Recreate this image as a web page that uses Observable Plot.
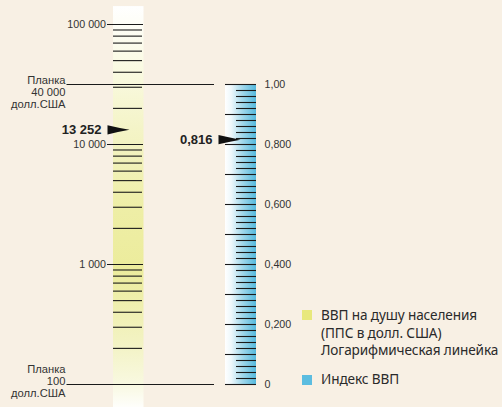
<!DOCTYPE html>
<html><head><meta charset="utf-8">
<script src="https://cdn.jsdelivr.net/npm/d3@7"></script>
<script src="https://cdn.jsdelivr.net/npm/@observablehq/plot@0.6"></script>
<style>
html,body{margin:0;padding:0;background:#f8f0e4;}
#wrap{position:relative;width:502px;height:407px;overflow:hidden;background:#f8f0e4;}
#wrap svg{position:absolute;left:0;top:0;}
.lg{position:absolute;font-family:"Noto Sans",sans-serif;font-size:13.6px;letter-spacing:-0.12px;line-height:17.5px;color:#2a2a2a;white-space:nowrap;}
.sw{position:absolute;width:10px;height:10px;}
</style></head><body><div id="wrap"></div>
<script>
// ---- data ----
const logTickValues = [200,300,400,500,600,700,800,900,
  1000,2000,3000,4000,5000,6000,7000,8000,9000,
  10000,20000,30000,40000,50000,60000,70000,80000,90000,100000];
const decadeValues = [1000, 10000, 100000];
const decadeLabels = ["1 000", "10 000", "100 000"];
const indexTickValues = d3.range(0, 51).map(i => i / 50);
const indexLabelValues = [0, 0.2, 0.4, 0.6, 0.8, 1.0];
const indexLabels = ["0", "0,200", "0,400", "0,600", "0,800", "1,00"];
const thresholdIndex = [1, 0];
const thresholdLabels = ["Планка\n40 000\nдолл.США", "Планка\n100\nдолл.США"];
const gdpPerCapita = 13252;
const gdpPerCapitaLabel = "13 252";
const gdpIndex = 0.816;
const gdpIndexLabel = "0,816";
const legendLabels = ["ВВП на душу населения\n(ППС в долл. США)\nЛогарифмическая линейка", "Индекс ВВП"];
const legendColors = ["#e8e87c", "#5cbde0"];

// ---- layout ----
const W = 502, H = 407;
const LB = {x1: 113, x2: 143.5};   // log ruler
const RB = {x1: 225, x2: 256};     // index ruler
const indexDecades = 2.5;           // index ruler length expressed in decades of the log ruler
const idx = v => Math.pow(10, 2 + indexDecades * v);
const arrow = {draw(ctx) { ctx.moveTo(-11, -4.6); ctx.quadraticCurveTo(0, -2, 11, 0); ctx.quadraticCurveTo(0, 2, -11, 4.6); ctx.closePath(); }};

const defs = () => {
  const d = d3.create("svg:defs");
  const gy = d.append("linearGradient").attr("id", "gy").attr("x1", 0).attr("x2", 0).attr("y1", 0).attr("y2", 1);
  [[0,"#ffffff"],[0.12,"#fbfbe8"],[0.3,"#f4f4c8"],[0.5,"#eeeea6"],[0.65,"#ecec9c"],[0.82,"#f2f2c0"],[0.93,"#f8f8df"],[1,"#ffffff"]]
    .forEach(([o,c]) => gy.append("stop").attr("offset", o).attr("stop-color", c));
  const gb = d.append("linearGradient").attr("id", "gb").attr("x1", 0).attr("x2", 1).attr("y1", 0).attr("y2", 0);
  [[0,"#ffffff"],[0.2,"#eef8fb"],[0.55,"#a4d9ec"],[1,"#55b9dd"]]
    .forEach(([o,c]) => gb.append("stop").attr("offset", o).attr("stop-color", c));
  return d.node();
};

const minor = logTickValues.filter(v => !decadeValues.includes(v));
const decades = decadeValues.map((v, i) => ({v, t: decadeLabels[i]}));
const idxLabels = indexLabelValues.map((v, i) => ({v, t: indexLabels[i]}));
const thresholds = thresholdIndex.map((v, i) => ({v, t: thresholdLabels[i]}));
const labelOpts = {x: 65, text: "t", textAnchor: "end", lineAnchor: "middle", fontSize: 11.2, lineHeight: 1.08, fill: "#333"};

const plot = Plot.plot({
  width: W, height: H,
  margin: 0,
  style: {background: "transparent", fontFamily: "'Liberation Sans', Arial, sans-serif"},
  x: {type: "linear", domain: [0, W], range: [0, W], axis: null},
  y: {type: "log", domain: [100, 100000], range: [384, 24], axis: null},
  marks: [
    defs,
    Plot.rect([0], {x1: LB.x1, x2: LB.x2, y1: 60, y2: 141000, fill: "url(#gy)"}),
    Plot.rect([0], {x1: RB.x1, x2: RB.x2, y1: idx(0), y2: idx(1), fill: "url(#gb)"}),
    // log ruler
    Plot.ruleY(minor, {y: d => d, x1: LB.x1, x2: LB.x2 - 1.5, stroke: "#1a1a1a", strokeWidth: 1.1}),
    Plot.ruleY(decades, {y: "v", x1: 107, x2: LB.x2 - 0.5, stroke: "#1a1a1a", strokeWidth: 1.1}),
    Plot.text(decades, {y: "v", x: 105.5, text: "t", textAnchor: "end", fontSize: 10.7, fill: "#333"}),
    // index ruler
    Plot.ruleY(indexTickValues, {y: d => idx(d), x1: d => (Math.round(d * 50) % 5 === 0 ? RB.x1 : 236), x2: RB.x2, stroke: "#1a1a1a", strokeWidth: 1.1}),
    Plot.text(idxLabels, {y: d => idx(d.v), x: 264, text: "t", textAnchor: "start", fontSize: 10.7, fill: "#333"}),
    // thresholds
    Plot.ruleY(thresholds, {y: d => idx(d.v), x1: 66.5, x2: 214, stroke: "#1a1a1a", strokeWidth: 1.1}),
    Plot.text(thresholds.filter(d => d.v === 1), {...labelOpts, y: d => idx(d.v), dy: 7.5}),
    Plot.text(thresholds.filter(d => d.v === 0), {...labelOpts, y: d => idx(d.v), dy: -3}),
    // markers
    Plot.dot([gdpPerCapita], {y: d => d, x: 118, symbol: arrow, fill: "#111", stroke: "none"}),
    Plot.text([gdpPerCapita], {y: d => d, x: 101, text: () => gdpPerCapitaLabel, textAnchor: "end", fontSize: 13, fontWeight: "bold", fill: "#222"}),
    Plot.dot([gdpIndex], {y: d => idx(d), x: 229, symbol: arrow, fill: "#111", stroke: "none"}),
    Plot.text([gdpIndex], {y: d => idx(d), x: 212, text: () => gdpIndexLabel, textAnchor: "end", fontSize: 13, fontWeight: "bold", fill: "#222"})
  ]
});
const wrap = document.getElementById("wrap");
wrap.appendChild(plot);

// legend
const legendPos = [{sx: 301.5, sy: 310, tx: 321, ty: 306}, {sx: 302, sy: 375, tx: 321, ty: 369.5}];
legendLabels.forEach((t, i) => {
  const p = legendPos[i];
  const s = document.createElement("div");
  s.className = "sw"; s.style.left = p.sx + "px"; s.style.top = p.sy + "px"; s.style.background = legendColors[i];
  wrap.appendChild(s);
  const l = document.createElement("div");
  l.className = "lg"; l.style.left = p.tx + "px"; l.style.top = p.ty + "px";
  l.innerHTML = t.split("\n").join("<br>");
  wrap.appendChild(l);
});
</script></body></html>
